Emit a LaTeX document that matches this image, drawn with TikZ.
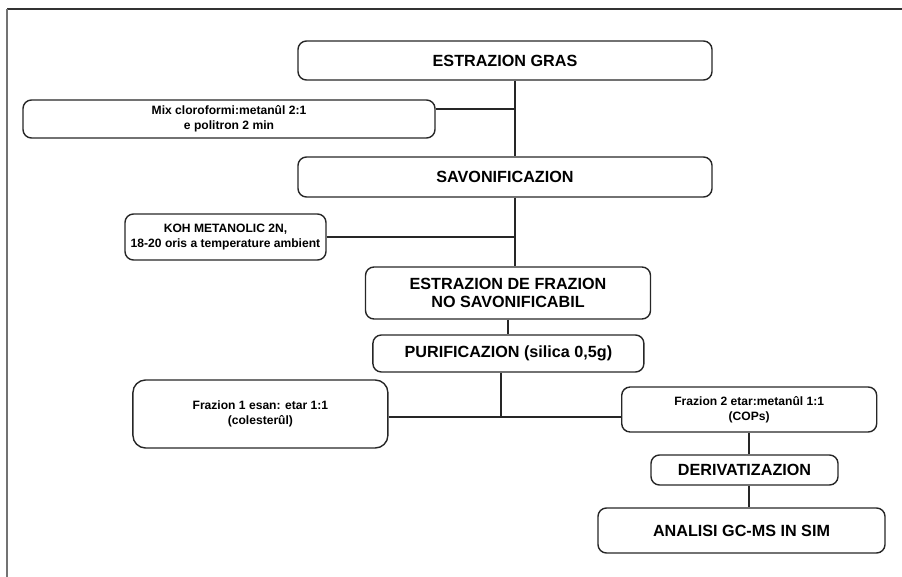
\documentclass[tikz,border=0pt]{standalone}
\usepackage{fontspec}
\setmainfont{Liberation Sans}
\usetikzlibrary{positioning}

\tikzset{
	stepbig/.style={draw=black!85, line width=1pt, rounded corners=6pt, inner sep=0pt, align=center,
		font=\bfseries\fontsize{11.5}{13}\selectfont},
	stepsmall/.style={draw=black!85, line width=1pt, rounded corners=6pt, inner sep=0pt, align=center,
		font=\bfseries\fontsize{8.6}{11}\selectfont},
	link/.style={draw=black!85, line width=1pt}
}

\begin{document}
\begin{tikzpicture}[x=0.025cm, y=-0.025cm]
		\useasboundingbox (0, 0) rectangle (902, 577);
		
		% Frame
		\draw[black!80, line width=1.4pt] (7, 9) -- (902, 9);
		\draw[black!55, line width=1.4pt] (7, 9) -- (7, 577);
		
		% Main steps
		\node[stepbig, minimum width=414*0.025cm, minimum height=39*0.025cm] (gras) at (505, 60.5) {ESTRAZION GRAS};
		\node[stepbig, minimum width=414*0.025cm, minimum height=40*0.025cm] (savon) at (505, 177) {SAVONIFICAZION};
		\node[stepbig, minimum width=285*0.025cm, minimum height=52*0.025cm] (nosav) at (508, 293) {ESTRAZION DE FRAZION\\NO SAVONIFICABIL};
		\node[stepbig, minimum width=271*0.025cm, minimum height=37*0.025cm] (purif) at (508.4, 353.5) {PURIFICAZION (silica 0,5g)};
		\node[stepbig, minimum width=187*0.025cm, minimum height=30*0.025cm] (deriv) at (744.5, 470) {DERIVATIZAZION};
		\node[stepbig, minimum width=287*0.025cm, minimum height=45*0.025cm] (analisi) at (741.5, 530.5) {ANALISI GC-MS IN SIM};
		
		% Reagents and fractions
		\node[stepsmall, minimum width=412*0.025cm, minimum height=38*0.025cm] (mix) at (229, 119) {Mix cloroformi:metanûl 2:1\\e politron 2 min};
		\node[stepsmall, minimum width=201*0.025cm, minimum height=46*0.025cm] (koh) at (225.5, 237) {KOH METANOLIC 2N,\\18-20 oris a temperature ambient};
		\node[stepsmall, minimum width=255*0.025cm, minimum height=68*0.025cm, rounded corners=9pt] (frazA) at (260.4, 414) {Frazion 1 esan: etar 1:1\\(colesterûl)};
		\node[stepsmall, minimum width=255*0.025cm, minimum height=45*0.025cm] (frazB) at (749.2, 409.5) {Frazion 2 etar:metanûl 1:1\\(COPs)};
		
		% Connectors
		\coordinate (trunk) at (515, 0);
		\coordinate (split) at (501, 417);
		\coordinate (lane) at (749, 0);
		
		\draw[link] (gras.south -| trunk) -- (savon.north -| trunk);
		\draw[link] ([yshift=0.25cm]mix.east) -| (savon.north -| trunk);
		
		\draw[link] (savon.south -| trunk) -- (nosav.north -| trunk);
		\draw[link] (koh.east) -| (nosav.north -| trunk);
		
		\draw[link] (nosav.south) -- (nosav.south |- purif.north);
		
		\draw[link] (purif.south -| split) -- (split);
		\draw[link] (frazA.east |- split) -- (frazB.west |- split);
		
		\draw[link] (frazB.south -| lane) -- (deriv.north -| lane);
		\draw[link] (deriv.south -| lane) -- (analisi.north -| lane);
	\end{tikzpicture}
\end{document}
